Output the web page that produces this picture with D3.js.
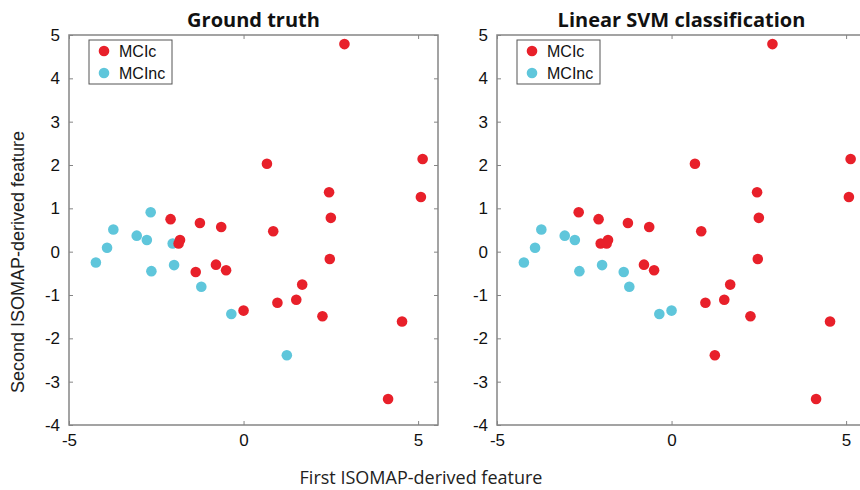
<!DOCTYPE html>
<html>
<head>
<meta charset="utf-8">
<script src="https://cdn.jsdelivr.net/npm/d3@7/dist/d3.min.js"></script>
<style>
  html, body { margin: 0; padding: 0; background: #fff; }
  svg { display: block; }
</style>
</head>
<body>
<svg id="chart" width="860" height="490"></svg>
<script>
// ---- data ----
const categories = ["MCIc", "MCInc"];
const panelTitles = ["Ground truth", "Linear SVM classification"];
const xTicks = [-5, 0, 5];
const yTicks = [-4, -3, -2, -1, 0, 1, 2, 3, 4, 5];

const featureX = [2.89, 0.67, 5.13, 2.45, 5.08, 2.50, 0.85, 2.47, 1.68, 1.51,
                  0.97, 0.00, 2.26, 4.54, 1.24, 4.14,
                  -2.66, -2.09, -1.25, -0.64, -3.73, -3.06, -2.77, -2.03, -1.82, -1.86,
                  -3.91, -4.23, -2.64, -1.99, -1.37, -0.79, -0.50, -1.21, -0.35];
const featureY = [4.79, 2.03, 2.14, 1.37, 1.26, 0.78, 0.47, -0.17, -0.76, -1.11,
                  -1.18, -1.36, -1.49, -1.61, -2.39, -3.40,
                  0.91, 0.75, 0.66, 0.57, 0.51, 0.37, 0.27, 0.19, 0.27, 0.19,
                  0.09, -0.25, -0.45, -0.31, -0.47, -0.30, -0.43, -0.81, -1.44];
const truthLabel = ["MCIc","MCIc","MCIc","MCIc","MCIc","MCIc","MCIc","MCIc","MCIc","MCIc",
                    "MCIc","MCIc","MCIc","MCIc","MCInc","MCIc",
                    "MCInc","MCIc","MCIc","MCIc","MCInc","MCInc","MCInc","MCInc","MCIc","MCIc",
                    "MCInc","MCInc","MCInc","MCInc","MCIc","MCIc","MCIc","MCInc","MCInc"];
const svmLabel   = ["MCIc","MCIc","MCIc","MCIc","MCIc","MCIc","MCIc","MCIc","MCIc","MCIc",
                    "MCIc","MCInc","MCIc","MCIc","MCIc","MCIc",
                    "MCIc","MCIc","MCIc","MCIc","MCInc","MCInc","MCInc","MCIc","MCIc","MCIc",
                    "MCInc","MCInc","MCInc","MCInc","MCInc","MCIc","MCIc","MCInc","MCInc"];

// ---- layout ----
const svg = d3.select("#chart");
const colour = d3.scaleOrdinal().domain(categories).range(["#e8202a", "#5fc6db"]);
const axisGrey = "#858585";
const tickFont = "'Liberation Sans', Arial, Helvetica, sans-serif";
const fmt = d => String(d);

const panels = [
  { left: 69, title: panelTitles[0], labels: truthLabel, legendX: 89 },
  { left: 497, title: panelTitles[1], labels: svmLabel, legendX: 517 }
];
const plotW = 369, plotTop = 35, plotBottom = 425;

panels.forEach(p => {
  const x = d3.scaleLinear().domain([-5, 5.57]).range([p.left, p.left + plotW]);
  const y = d3.scaleLinear().domain([-4, 5]).range([plotBottom, plotTop]);
  const g = svg.append("g");

  // frame
  g.append("rect").attr("x", x.range()[0]).attr("y", plotTop)
    .attr("width", plotW).attr("height", plotBottom - plotTop)
    .attr("fill", "none").attr("stroke", axisGrey).attr("stroke-width", 1.5);

  const styleAxis = sel => {
    sel.select(".domain").remove();
    sel.selectAll(".tick line").attr("stroke", axisGrey).attr("stroke-width", 1);
    sel.selectAll("text").attr("fill", "#111").style("font-family", tickFont).style("font-size", "17px");
  };

  g.append("g").attr("transform", `translate(0,${plotBottom})`)
    .call(d3.axisBottom(x).tickValues(xTicks).tickFormat(fmt).tickSizeInner(-4).tickSizeOuter(0).tickPadding(9))
    .call(styleAxis);
  g.append("g").attr("transform", `translate(0,${plotTop})`)
    .call(d3.axisTop(x).tickValues(xTicks).tickSizeInner(-4).tickSizeOuter(0).tickFormat(""))
    .call(styleAxis);
  g.append("g").attr("transform", `translate(${p.left},0)`)
    .call(d3.axisLeft(y).tickValues(yTicks).tickFormat(fmt).tickSizeInner(-4).tickSizeOuter(0).tickPadding(9))
    .call(styleAxis);
  g.append("g").attr("transform", `translate(${p.left + plotW},0)`)
    .call(d3.axisRight(y).tickValues(yTicks).tickSizeInner(-4).tickSizeOuter(0).tickFormat(""))
    .call(styleAxis);

  // points: MCInc first, MCIc on top
  const idx = d3.range(featureX.length);
  const order = idx.filter(i => p.labels[i] === "MCInc").concat(idx.filter(i => p.labels[i] === "MCIc"));
  g.append("g").selectAll("circle").data(order).join("circle")
    .attr("cx", i => x(featureX[i])).attr("cy", i => y(featureY[i]))
    .attr("r", 5.3).attr("fill", i => colour(p.labels[i]));

  // title
  g.append("text").attr("x", p.left + plotW / 2).attr("y", 27).attr("text-anchor", "middle")
    .style("font-family", "'Open Sans', sans-serif").style("font-weight", "bold").style("font-size", "20px")
    .attr("fill", "#111").text(p.title);

  // legend
  const lg = g.append("g").attr("transform", `translate(${p.legendX},40)`);
  lg.append("rect").attr("width", 83).attr("height", 44).attr("fill", "#fff")
    .attr("stroke", "#555").attr("stroke-width", 1);
  categories.forEach((c, k) => {
    lg.append("circle").attr("cx", 15).attr("cy", 11 + k * 22).attr("r", 5.3).attr("fill", colour(c));
    lg.append("text").attr("x", 30).attr("y", 11 + k * 22).attr("dy", "0.36em")
      .style("font-family", tickFont).style("font-size", "16px").attr("fill", "#111").text(c);
  });
});

// axis titles
svg.append("text").attr("x", 421).attr("y", 484).attr("text-anchor", "middle")
  .style("font-family", "'Open Sans', sans-serif").style("font-size", "18px").attr("fill", "#222")
  .text("First ISOMAP-derived feature");
svg.append("text").attr("transform", "translate(24,262) rotate(-90)").attr("text-anchor", "middle")
  .style("font-family", tickFont).style("font-size", "18px").attr("fill", "#222")
  .text("Second ISOMAP-derived feature");
</script>
</body>
</html>
